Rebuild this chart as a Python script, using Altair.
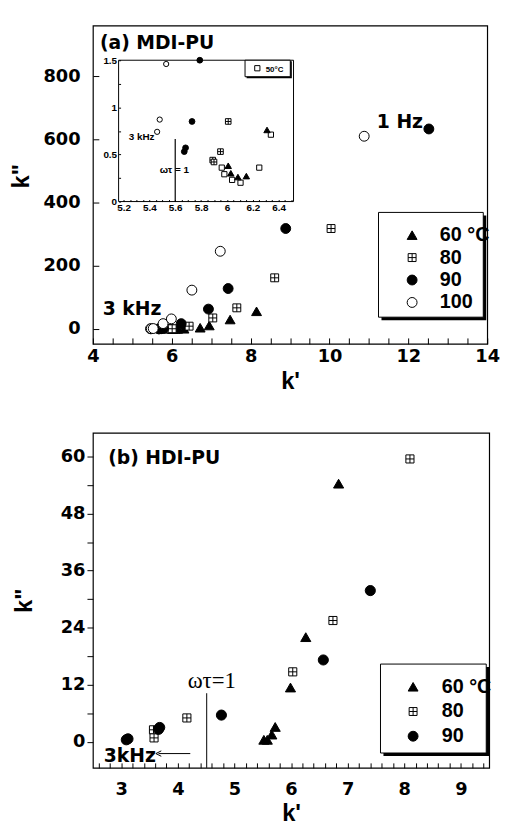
import altair as alt
import pandas as pd

# ---------------- Panel (a) MDI-PU : data (k', k'') ----------------
A_SERIES = ["60 °C", "80", "90", "100"]
a60_x = [6.01, 6.03, 6.085, 6.15, 6.31, 6.72, 6.95, 7.48, 8.15]
a60_y = [0.38, 0.30, 0.26, 0.27, 0.76, 4, 11, 30, 56]
a80_x = [5.89, 5.90, 5.95, 6.01, 6.44, 7.04, 7.65, 8.61, 10.04]
a80_y = [0.44, 0.42, 0.53, 0.85, 9, 35, 67, 162, 318]
a90_x = [5.67, 5.68, 5.73, 5.79, 6.24, 6.93, 7.43, 8.89, 12.52]
a90_y = [0.53, 0.57, 0.85, 1.50, 17, 63, 128, 318, 633]
a100_x = [5.46, 5.48, 5.53, 5.78, 5.99, 6.51, 7.23, 10.88]
a100_y = [0.74, 0.87, 1.46, 17, 32, 123, 246, 610]
# inset only: 50 °C
i50_x = [5.96, 5.98, 6.04, 6.105, 6.25, 6.34]
i50_y = [0.36, 0.29, 0.23, 0.20, 0.36, 0.71]

a_text = ["(a) MDI-PU", "1 Hz", "3 kHz"]
a_text_x = [4.18, 11.2, 4.25]
a_text_y = [887, 637, 44]

in_text = ["3 kHz", "ωτ = 1"]
in_text_x = [5.24, 5.48]
in_text_y = [0.65, 0.30]
in_rule_x = [5.6]
in_rule_y = [0.0]
in_rule_y2 = [0.665]
in_leg_label = ["50°C"]

# ---------------- Panel (b) HDI-PU ----------------
B_SERIES = ["60 °C", "80", "90"]
b60_x = [5.52, 5.58, 5.66, 5.72, 5.99, 6.26, 6.84]
b60_y = [0.4, 0.4, 1.5, 3.1, 11.4, 22.0, 54.3]
b80_x = [3.57, 3.58, 4.16, 6.03, 6.74, 8.10]
b80_y = [2.5, 0.8, 5.0, 14.7, 25.5, 59.5]
b90_x = [3.09, 3.12, 3.66, 3.68, 4.77, 6.57, 7.40]
b90_y = [0.4, 0.6, 2.6, 3.0, 5.6, 17.2, 31.8]

b_text = ["(b) HDI-PU", "3kHz"]
b_text_x = [2.77, 2.69]
b_text_y = [58.4, -4.2]
b_omega = ["ωτ=1"]
b_omega_x = [4.6]
b_omega_y = [11.3]
b_rule_x = [4.51]
b_rule_y = [-5.5]
b_rule_y2 = [10.2]
b_arrow_x = [3.66]
b_arrow_x2 = [4.22]
b_arrow_y = [-2.5]

# ---------------- styling ----------------
TRI = "triangle-up"
XSQ = "M-0.8,-0.8H0.8V0.8H-0.8Z M0,-0.8V0.8 M-0.8,0H0.8"
CIR = "circle"
SQ = "square"
CHEV = "M1,-1L-1,0L1,1"
SHAPES_A = [TRI, XSQ, CIR, CIR]
FILLS_A = ["black", "white", "black", "white"]
SHAPES_B = [TRI, XSQ, CIR]
FILLS_B = ["black", "white", "black"]

TICKF = "DejaVu Sans"
TXTF = "Liberation Sans"

W_A, H_A = 399, 322
W_B, H_B = 401, 339


def series_df(names, xs, ys):
    rows = []
    for n, x, y in zip(names, xs, ys):
        for xi, yi in zip(x, y):
            rows.append({"s": n, "x": xi, "y": yi})
    return pd.DataFrame(rows)


def text_df(t, x, y):
    return pd.DataFrame({"t": t, "x": x, "y": y})


dummy = pd.DataFrame({"k": [0]})


def make_legend(lx, ly, loff, rowpad):
    return alt.Legend(orient="none", legendX=lx, legendY=ly, title=None, padding=0,
                      labelFont=TXTF, labelFontSize=20, labelFontWeight="bold", labelColor="black",
                      labelOffset=loff, rowPadding=rowpad, symbolStrokeColor="black",
                      symbolStrokeWidth=1, symbolSize=100, symbolOpacity=1, labelLimit=200, zindex=2)


# ================= Panel (a) main =================
xa = alt.X("x:Q", scale=alt.Scale(domain=[4, 14], nice=False, zero=False),
           axis=alt.Axis(values=[4 + 0.5 * i for i in range(21)],
                         labelExpr="datum.value % 2 == 0 ? format(datum.value, 'd') : ''",
                         tickSize=6, offset=-6, labelPadding=4, domain=False, grid=False,
                         labelFlush=False, labelOverlap=False, labelFont=TICKF, labelFontSize=18,
                         labelFontWeight="bold", labelColor="black", tickColor="black",
                         title="k'", titleFont=TXTF, titleFontSize=24, titleFontWeight="bold",
                         titleColor="black", titlePadding=4, zindex=1))
ya = alt.Y("y:Q", scale=alt.Scale(domain=[-47, 960], nice=False, zero=False),
           axis=alt.Axis(values=[0, 200, 400, 600, 800], tickSize=6, offset=-6, labelPadding=13,
                         domain=False, grid=False, labelFlush=False, labelOverlap=False,
                         labelFont=TICKF, labelFontSize=18, labelFontWeight="bold",
                         labelColor="black", tickColor="black",
                         title='k"', titleFont=TXTF, titleFontSize=24, titleFontWeight="bold",
                         titleColor="black", titlePadding=10, titleY=152, zindex=1))

leg_a = make_legend(313, 202, 18, 2.7)

df_a = series_df(A_SERIES, [a60_x, a80_x, a90_x, a100_x], [a60_y, a80_y, a90_y, a100_y])

pts_a = alt.Chart(df_a).mark_point(filled=True, strokeWidth=1, size=100, opacity=1).encode(
    x=xa, y=ya,
    shape=alt.Shape("s:N", scale=alt.Scale(domain=A_SERIES, range=SHAPES_A), legend=leg_a),
    fill=alt.Fill("s:N", scale=alt.Scale(domain=A_SERIES, range=FILLS_A), legend=leg_a),
    stroke=alt.Stroke("s:N", scale=alt.Scale(domain=A_SERIES, range=["black"] * 4), legend=leg_a),
)
txt_a = alt.Chart(text_df(a_text, a_text_x, a_text_y)).mark_text(
    align="left", baseline="alphabetic", font=TICKF, fontSize=19, fontWeight="bold", color="black"
).encode(x=xa, y=ya, text="t:N")

shadow_a = alt.Chart(dummy).mark_rect(fill="black").encode(
    x=alt.value(292), x2=alt.value(398), y=alt.value(192), y2=alt.value(298))
box_a = alt.Chart(dummy).mark_rect(fill="white", stroke="black", strokeWidth=1).encode(
    x=alt.value(289), x2=alt.value(395), y=alt.value(189), y2=alt.value(295))

main_a = alt.layer(shadow_a, box_a, pts_a, txt_a)

# ================= Panel (a) inset =================
IN_X = [5.162, 6.515]
IN_Y = [0.0, 1.5]
xi = alt.X("x:Q", title=None, scale=alt.Scale(domain=IN_X, range=[26, 203], nice=False, zero=False),
           axis=alt.Axis(orient="bottom", values=[round(5.2 + 0.05 * i, 2) for i in range(27)],
                         labelExpr="abs(datum.value*5 - round(datum.value*5)) < 0.001 ? format(datum.value, '.1~f') : ''",
                         tickSize=2, offset=-(H_A - 178) - 2, labelPadding=1, domain=False, grid=False,
                         labelFlush=False, labelOverlap=False, labelFont=TXTF, labelFontSize=10,
                         labelFontWeight="bold", labelColor="black", tickColor="black", zindex=1))
yi = alt.Y("y:Q", title=None, scale=alt.Scale(domain=IN_Y, range=[178, 35], nice=False, zero=False),
           axis=alt.Axis(orient="left", values=[0, 0.25, 0.5, 0.75, 1, 1.25, 1.5],
                         labelExpr="datum.value % 0.5 == 0 ? format(datum.value, '.2~g') : ''",
                         tickSize=2, offset=-26 - 2, labelPadding=2, domain=False, grid=False,
                         labelFlush=False, labelOverlap=False, labelFont=TXTF, labelFontSize=10,
                         labelFontWeight="bold", labelColor="black", tickColor="black", zindex=1))

in_frame = alt.Chart(pd.DataFrame({"x": [IN_X[0]], "x2": [IN_X[1]], "y": [IN_Y[0]], "y2": [IN_Y[1]]})).mark_rect(
    fill="white", stroke="black", strokeWidth=1).encode(x=xi, x2="x2:Q", y=yi, y2="y2:Q")


def inset_pts(xs, ys, shape, fill, size):
    d = pd.DataFrame({"x": xs, "y": ys})
    d = d[(d["y"] <= 1.5) & (d["x"] >= IN_X[0]) & (d["x"] <= IN_X[1])]
    return alt.Chart(d).mark_point(shape=shape, filled=True, fill=fill, stroke="black",
                                   strokeWidth=1, size=size, opacity=1).encode(x=xi, y=yi)


in_layers = [
    in_frame,
    inset_pts(i50_x, i50_y, SQ, "white", 28),
    inset_pts(a60_x, a60_y, TRI, "black", 42),
    inset_pts(a80_x, a80_y, XSQ, "white", 50),
    inset_pts(a90_x, a90_y, CIR, "black", 34),
    inset_pts(a100_x, a100_y, CIR, "white", 28),
]
in_rule = alt.Chart(pd.DataFrame({"x": in_rule_x, "y": in_rule_y, "y2": in_rule_y2})).mark_rule(
    color="black", strokeWidth=1.2).encode(x=xi, y=yi, y2="y2:Q")
in_txt = alt.Chart(text_df(in_text, in_text_x, in_text_y)).mark_text(
    align="left", baseline="alphabetic", font=TXTF, fontSize=10, fontWeight="bold", color="black"
).encode(x=xi, y=yi, text="t:N")
in_leg_shadow = alt.Chart(pd.DataFrame({"x": [6.152], "x2": [6.502], "y": [1.31], "y2": [1.49]})).mark_rect(
    fill="black").encode(x=xi, x2="x2:Q", y=yi, y2="y2:Q")
in_leg_box = alt.Chart(pd.DataFrame({"x": [6.14], "x2": [6.49], "y": [1.325], "y2": [1.50]})).mark_rect(
    fill="white", stroke="black", strokeWidth=1).encode(x=xi, x2="x2:Q", y=yi, y2="y2:Q")
in_leg_sym = alt.Chart(pd.DataFrame({"x": [6.235], "y": [1.415]})).mark_point(
    shape=SQ, filled=True, fill="white", stroke="black", strokeWidth=1, size=28, opacity=1).encode(x=xi, y=yi)
in_leg_txt = alt.Chart(text_df(in_leg_label, [6.30], [1.38])).mark_text(
    align="left", baseline="alphabetic", font=TXTF, fontSize=8, fontWeight="bold", color="black"
).encode(x=xi, y=yi, text="t:N")

inset_a = alt.layer(*in_layers, in_rule, in_txt, in_leg_shadow, in_leg_box, in_leg_sym, in_leg_txt)

panel_a = alt.layer(main_a, inset_a).resolve_scale(x="independent", y="independent").properties(
    width=W_A, height=H_A)

# ================= Panel (b) =================
xb = alt.X("x:Q", scale=alt.Scale(domain=[2.5, 9.5], nice=False, zero=False),
           axis=alt.Axis(values=[round(2.6 + 0.2 * i, 1) for i in range(35)],
                         labelExpr="abs(datum.value - round(datum.value)) < 0.01 ? format(datum.value, '.0f') : ''",
                         tickSize=5, offset=-5, labelPadding=13, domain=False, grid=False,
                         labelFlush=False, labelOverlap=False, labelFont=TICKF, labelFontSize=18,
                         labelFontWeight="bold", labelColor="black", tickColor="black",
                         title="k'", titleFont=TXTF, titleFontSize=24, titleFontWeight="bold",
                         titleColor="black", titlePadding=3, zindex=1))
yb = alt.Y("y:Q", scale=alt.Scale(domain=[-5.5, 65], nice=False, zero=False),
           axis=alt.Axis(values=[6 * i for i in range(11)],
                         labelExpr="datum.value % 12 == 0 ? datum.label : ''",
                         tickSize=6, labelPadding=2, domain=False, grid=False,
                         labelFlush=False, labelOverlap=False, labelFont=TICKF, labelFontSize=18,
                         labelFontWeight="bold", labelColor="black", tickColor="black",
                         title='k"', titleFont=TXTF, titleFontSize=24, titleFontWeight="bold",
                         titleColor="black", titlePadding=24, zindex=1))

leg_b = make_legend(314, 247, 19, 5)

df_b = series_df(B_SERIES, [b60_x, b80_x, b90_x], [b60_y, b80_y, b90_y])
pts_b = alt.Chart(df_b).mark_point(filled=True, strokeWidth=1, size=105, opacity=1).encode(
    x=xb, y=yb,
    shape=alt.Shape("s:N", scale=alt.Scale(domain=B_SERIES, range=SHAPES_B), legend=leg_b),
    fill=alt.Fill("s:N", scale=alt.Scale(domain=B_SERIES, range=FILLS_B), legend=leg_b),
    stroke=alt.Stroke("s:N", scale=alt.Scale(domain=B_SERIES, range=["black"] * 3), legend=leg_b),
)
txt_b = alt.Chart(text_df(b_text, b_text_x, b_text_y)).mark_text(
    align="left", baseline="alphabetic", font=TICKF, fontSize=19, fontWeight="bold", color="black"
).encode(x=xb, y=yb, text="t:N")
omega_b = alt.Chart(text_df(b_omega, b_omega_x, b_omega_y)).mark_text(
    align="center", baseline="alphabetic", font="Liberation Serif", fontSize=23, color="black"
).encode(x=xb, y=yb, text="t:N")
rule_b = alt.Chart(pd.DataFrame({"x": b_rule_x, "y": b_rule_y, "y2": b_rule_y2})).mark_rule(
    color="black", strokeWidth=1).encode(x=xb, y=yb, y2="y2:Q")
arrow_b = alt.Chart(pd.DataFrame({"x": b_arrow_x, "x2": b_arrow_x2, "y": b_arrow_y})).mark_rule(
    color="black", strokeWidth=1).encode(x=xb, x2="x2:Q", y=yb)
head_b = alt.Chart(pd.DataFrame({"x": b_arrow_x, "y": b_arrow_y})).mark_point(
    shape=CHEV, filled=False, stroke="black", strokeWidth=1, size=30, opacity=1).encode(x=xb, y=yb)

shadow_b = alt.Chart(dummy).mark_rect(fill="black").encode(
    x=alt.value(294), x2=alt.value(401), y=alt.value(237), y2=alt.value(327))
box_b = alt.Chart(dummy).mark_rect(fill="white", stroke="black", strokeWidth=1).encode(
    x=alt.value(291), x2=alt.value(398), y=alt.value(234), y2=alt.value(324))

panel_b = alt.layer(shadow_b, box_b, pts_b, txt_b, omega_b, rule_b, arrow_b, head_b).properties(
    width=W_B, height=H_B)

chart = alt.vconcat(panel_a, panel_b, spacing=38).resolve_scale(
    shape="independent", fill="independent", stroke="independent"
).properties(
    padding={"left": 8, "top": 20, "right": 5, "bottom": 2}, background="white"
).configure_view(stroke="black", strokeWidth=1.2)

chart.save("out.html", embed_options={"renderer": "svg", "actions": False})
